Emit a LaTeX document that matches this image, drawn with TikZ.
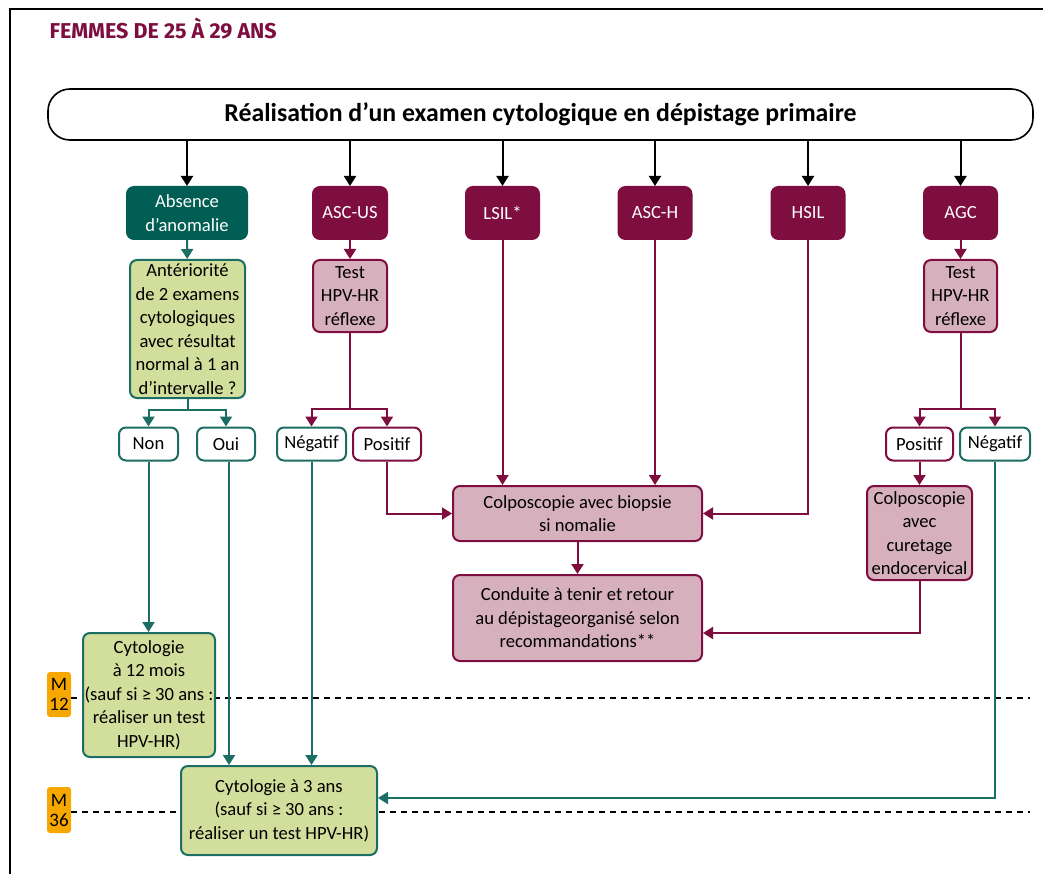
\documentclass[tikz,border=0pt]{standalone}
\usepackage{fontspec}
\setmainfont{Carlito}
\newfontfamily\titlefont{Fira Sans}
\usetikzlibrary{arrows.meta,calc}

\definecolor{teal1}{HTML}{005E54}
\definecolor{tealline}{HTML}{1C6D63}
\definecolor{maroon1}{HTML}{7D0E3F}
\definecolor{pink1}{HTML}{D7B0BD}
\definecolor{green1}{HTML}{D2DE9B}
\definecolor{orange1}{HTML}{F6A800}

\tikzset{
  base/.style={rounded corners=7pt, line width=2pt, align=center, inner sep=0pt,
    font=\fontsize{18.6}{23.5}\selectfont},
  topbox/.style={base, draw=black, rounded corners=22pt, line width=1.6pt,
    font=\fontsize{25.8}{29}\selectfont\bfseries},
  tealbox/.style={base, fill=teal1, draw=teal1, text=white},
  redbox/.style={base, fill=maroon1, draw=maroon1, text=white},
  pinkbox/.style={base, fill=pink1, draw=maroon1},
  greenbox/.style={base, fill=green1, draw=tealline},
  wteal/.style={base, fill=white, draw=tealline},
  wred/.style={base, fill=white, draw=maroon1},
  badge/.style={fill=orange1, rounded corners=3pt, align=center, inner sep=0pt,
    minimum width=24pt, font=\fontsize{19}{20}\selectfont},
  karr/.style={line width=2pt, draw=black, -{Triangle[width=12pt,length=10pt]}},
  rarr/.style={line width=2pt, draw=maroon1, -{Triangle[width=12pt,length=10pt]}},
  garr/.style={line width=2pt, draw=tealline, -{Triangle[width=12pt,length=10pt]}},
  rline/.style={line width=2pt, draw=maroon1},
  timeline/.style={line width=2pt, draw=black, dash pattern=on 6pt off 5pt},
}

\begin{document}
\begin{tikzpicture}[x=1pt, y=-1pt]
\useasboundingbox (0,0) rectangle (1043,874);

% outer frame (left and top edges)
\draw[line width=2pt] (10,874) -- (10,9) -- (1043,9);

% heading
\node[anchor=west, text=maroon1, font=\titlefont\fontsize{21.5}{24}\selectfont\bfseries]
  (heading) at (46,29) {FEMMES DE 25 À 29 ANS};

% time markers
\node[badge, minimum height=45pt] (m12) at (59,694.5) {M\\12};
\node[badge, minimum height=46pt] (m36) at (59,810) {M\\36};
\coordinate (e12) at (1030,698);
\coordinate (e36) at (1030,812);
\draw[timeline] (m12.east |- e12) -- (e12);
\draw[timeline] (m36.east |- e36) -- (e36);

% primary test
\node[topbox, minimum width=985pt, minimum height=51pt] (top) at (540.5,114.5)
  {Réalisation d’un examen cytologique en dépistage primaire};

% cytology results
\node[tealbox, minimum width=120pt, minimum height=52pt] (absence) at (187,213) {Absence\\d’anomalie};
\node[redbox, minimum width=74pt, minimum height=52pt] (ascus) at (350,213) {ASC-US};
\node[redbox, minimum width=73pt, minimum height=52pt] (lsil) at (502.5,213) {LSIL*};
\node[redbox, minimum width=73pt, minimum height=52pt] (asch) at (655,213) {ASC-H};
\node[redbox, minimum width=73pt, minimum height=52pt] (hsil) at (808,213) {HSIL};
\node[redbox, minimum width=73pt, minimum height=52pt] (agc) at (960.5,213) {AGC};

\foreach \n in {absence,ascus,lsil,asch,hsil,agc}
  \draw[karr] (top.south -| \n.north) -- (\n.north);

% second level
\node[greenbox, minimum width=115pt, minimum height=138pt] (ant) at (187.5,329)
  {Antériorité\\de 2 examens\\cytologiques\\avec résultat\\normal à 1 an\\d’intervalle ?};
\node[pinkbox, minimum width=74pt, minimum height=72pt] (test1) at (350,296) {Test\\HPV-HR\\réflexe};
\node[pinkbox, minimum width=73pt, minimum height=72pt] (test2) at (960.5,296) {Test\\HPV-HR\\réflexe};

\draw[garr] (absence) -- (ant);
\draw[rarr] (ascus) -- (test1);
\draw[rarr] (agc) -- (test2);

% answers
\node[wteal, minimum width=59pt, minimum height=33pt] (non) at (148.5,444) {Non};
\node[wteal, minimum width=58pt, minimum height=33pt] (oui) at (226,444) {Oui};
\node[wteal, minimum width=69pt, minimum height=33pt] (neg1) at (311.5,444) {Négatif};
\node[wred, minimum width=68pt, minimum height=33pt] (pos1) at (387,444) {Positif};
\node[wred, minimum width=67pt, minimum height=33pt] (pos2) at (919.5,444) {Positif};
\node[wteal, minimum width=70pt, minimum height=33pt] (neg2) at (995,444) {Négatif};

\coordinate (s1) at ($(ant.south)+(0,11)$);
\coordinate (s2) at (350,409);
\coordinate (s3) at (960.5,409);
\draw[line width=2pt, draw=tealline] (ant.south) -- (s1);
\draw[garr] (s1) -| (non.north);
\draw[garr] (s1) -| (oui.north);
\draw[rline] (test1.south) -- (s2);
\draw[rarr] (s2) -| (neg1.north);
\draw[rarr] (s2) -| (pos1.north);
\draw[rline] (test2.south) -- (s3);
\draw[rarr] (s3) -| (pos2.north);
\draw[rarr] (s3) -| (neg2.north);

% colposcopy
\node[pinkbox, minimum width=249pt, minimum height=55pt] (colpo) at (577.5,513.5)
  {Colposcopie avec biopsie\\si nomalie};
\node[pinkbox, minimum width=249pt, minimum height=86pt] (cond) at (577.5,618)
  {Conduite à tenir et retour\\au dépistageorganisé selon\\recommandations**};
\node[pinkbox, minimum width=105pt, minimum height=94pt] (curet) at (919.5,533)
  {Colposcopie\\avec\\curetage\\endocervical};

\draw[rarr] (pos1.south) |- (colpo.west);
\draw[rarr] (lsil.south) -- (lsil.south |- colpo.north);
\draw[rarr] (asch.south) -- (asch.south |- colpo.north);
\draw[rarr] (hsil.south) |- (colpo.east);
\draw[rarr] (colpo) -- (cond);
\draw[rarr] (pos2) -- (curet);
\draw[rarr] (curet.south) |- ([yshift=-15pt]cond.east);

% follow-up cytology
\node[greenbox, minimum width=132pt, minimum height=124pt] (cyt12) at (149,695)
  {Cytologie\\à 12 mois\\(sauf si ≥ 30 ans :\\réaliser un test\\HPV-HR)};
\node[greenbox, minimum width=196pt, minimum height=89pt] (cyt3) at (279,810.5)
  {Cytologie à 3 ans\\(sauf si ≥ 30 ans :\\réaliser un test HPV-HR)};

\draw[garr] (non) -- (non.south |- cyt12.north);
\draw[garr] ([xshift=3pt]oui.south) -- ([xshift=3pt]oui.south |- cyt3.north);
\draw[garr] (neg1.south) -- (neg1.south |- cyt3.north);
\draw[garr] (neg2.south) |- ([yshift=12.5pt]cyt3.east);
\end{tikzpicture}
\end{document}
